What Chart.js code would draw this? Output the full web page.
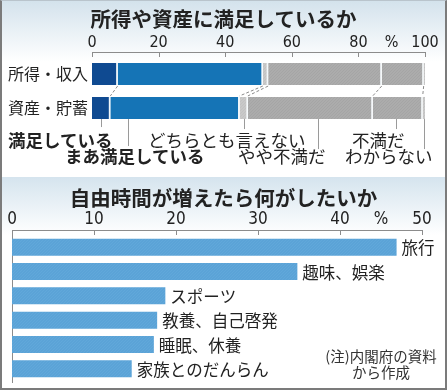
<!DOCTYPE html>
<html>
<head>
<meta charset="utf-8">
<script src="https://cdn.jsdelivr.net/npm/chart.js@4/dist/chart.umd.min.js"></script>
<style>
  html, body { margin: 0; padding: 0; background: #fff; }
  #wrap { position: relative; width: 447px; height: 390px; overflow: hidden; background: #fff;
          font-family: 'Noto Sans CJK JP', 'Noto Sans', sans-serif; color: #222; }
  .panel { position: absolute; left: 0; width: 447px; }
  #p1 { top: 0; height: 172px; background: linear-gradient(to bottom, #d3e2ec 0px, #ffffff 62px); }
  #p2 { top: 177px; height: 213px; background: linear-gradient(to bottom, #d5e4ee 0px, #ffffff 58px); }
  canvas { position: absolute; left: 0; }
  #c1 { top: 0; }
  #c2 { top: 178px; }
  .t { position: absolute; white-space: nowrap; }
  .title { font-weight: bold; font-size: 20.5px; line-height: 22px; width: 447px; text-align: center; left: 0; }
  .lg { font-size: 17.5px; line-height: 18px; }
  .b { font-weight: bold; }
  #note { font-size: 14.5px; line-height: 16px; text-align: center; left: 320px; width: 122px; top: 348px; color: #333; }
  #frame { position: absolute; left: 0; top: 0; width: 447px; height: 390px; box-sizing: border-box;
           border-left: 2px solid #7b7b7b; border-right: 2px solid #7b7b7b; border-bottom: 2px solid #7b7b7b;
           border-top: 1px solid #b9c4cc; pointer-events: none; }
</style>
</head>
<body>
<div id="wrap">
  <div class="panel" id="p1"></div>
  <div class="panel" id="p2"></div>
  <canvas id="c1" width="447" height="172"></canvas>
  <canvas id="c2" width="447" height="210"></canvas>

  <div class="t title" style="top:7px;">所得や資産に満足しているか</div>
  <div class="t title" style="top:186px;">自由時間が増えたら何がしたいか</div>

  <div class="t lg b" style="left:8px; top:131px;">満足している</div>
  <div class="t lg b" style="left:65px; top:147px;">まあ満足している</div>
  <div class="t lg" style="left:148px; top:131px;">どちらとも言えない</div>
  <div class="t lg" style="left:238px; top:147px;">やや不満だ</div>
  <div class="t lg" style="left:352px; top:131px;">不満だ</div>
  <div class="t lg" style="left:345px; top:147px;">わからない</div>

  <div class="t" id="note">(注)内閣府の資料<br>から作成</div>
  <div id="frame"></div>
</div>
<script>
// ---------------- data ----------------
const satCategories = ['所得・収入', '資産・貯蓄'];
const satSeries = ['満足している', 'まあ満足している', 'どちらとも言えない', 'やや不満だ', '不満だ', 'わからない'];
const satisfied          = [7.7, 5.5];
const fairlySatisfied    = [43.6, 38.8];
const neutral            = [1.6, 2.5];
const fairlyDissatisfied = [34.1, 37.5];
const dissatisfied       = [12.6, 15.0];
const unknown            = [0.4, 0.7];
const satTicks = [0, 20, 40, 60, 80, 100];

const freeCategories = ['旅行', '趣味、娯楽', 'スポーツ', '教養、自己啓発', '睡眠、休養', '家族とのだんらん'];
const freeValues = [46.9, 34.8, 18.7, 17.7, 17.3, 14.6];
const freeTicks = [0, 10, 20, 30, 40, 50];

// leader-line anchors under the first chart (in % units) and their lengths
const leaderAnchors = [
  { v: 2.8, len: 8 }, { v: 10.9, len: 27 }, { v: 45.7, len: 10 },
  { v: 67.9, len: 30 }, { v: 91.3, len: 10 }, { v: 99.7, len: 30 }
];

// ---------------- styles ----------------
function hatch(base, line) {
  const c = document.createElement('canvas');
  c.width = 3; c.height = 3;
  const g = c.getContext('2d');
  g.fillStyle = base; g.fillRect(0, 0, 3, 3);
  g.fillStyle = line;
  g.fillRect(0, 2, 1, 1); g.fillRect(1, 1, 1, 1); g.fillRect(2, 0, 1, 1);
  return g.createPattern(c, 'repeat');
}
const grayMain = hatch('#acacac', '#a5a5a5');
const grayLight = hatch('#c9c9c9', '#c2c2c2');
const satColors = ['#0f4a91', '#1574b6', grayLight, grayMain, grayMain, grayLight];
const satBorders = [1.5, 1.5, 1.5, 1.5, 1.5, 0];
const freeColor = hatch('#5ba3d7', '#61a8da');

const tickFont16 = { family: "'Liberation Sans Narrow', 'DejaVu Sans Condensed', 'Liberation Sans', sans-serif", size: 16 };
const tickFont17 = { family: "'Liberation Sans Narrow', 'DejaVu Sans Condensed', 'Liberation Sans', sans-serif", size: 17 };
const TICK_LEN = 5, TICK_PAD = 5;

// axis line + inward ticks + "%" label
function axisPlugin(ticks, opts) {
  return {
    id: 'axisDeco',
    beforeDatasetsDraw(chart) {
      const { ctx, chartArea: a, scales } = chart;
      const x = scales.x;
      const ay = a.top - TICK_LEN;
      ctx.save();
      if (opts.fillPlot) {
        ctx.fillStyle = '#ffffff';
        ctx.fillRect(a.left, ay, a.right - a.left, a.bottom - ay + 2);
      }
      ctx.strokeStyle = '#8c8c8c';
      ctx.lineWidth = 1;
      ctx.beginPath();
      ctx.moveTo(a.left, ay + 0.5); ctx.lineTo(a.right + 0.5, ay + 0.5);
      ticks.forEach(v => {
        const px = Math.round(x.getPixelForValue(v)) + 0.5;
        ctx.moveTo(px, ay); ctx.lineTo(px, a.top);
      });
      if (opts.leftBorder) {
        ctx.moveTo(a.left + 0.5, ay); ctx.lineTo(a.left + 0.5, a.bottom + 2);
      }
      ctx.stroke();
      // percent sign
      const f = opts.font;
      ctx.font = f.size + 'px ' + f.family;
      ctx.fillStyle = '#222';
      ctx.textAlign = 'center';
      ctx.textBaseline = 'middle';
      const step = ticks[1] - ticks[0];
      const last = ticks[ticks.length - 1];
      ctx.fillText('%', x.getPixelForValue(last - step / 2), a.top - TICK_PAD - f.size * 0.6);
      ctx.restore();
    }
  };
}

// dashed connectors between the two stacked bars + leader lines
const connectorPlugin = {
  id: 'connectors',
  afterDatasetsDraw(chart) {
    const { ctx, scales } = chart;
    const n = chart.data.datasets.length;
    ctx.save();
    ctx.strokeStyle = '#8a8a8a';
    ctx.lineWidth = 1;
    ctx.setLineDash([3, 2]);
    for (let i = 0; i < n - 1; i++) {
      const b0 = chart.getDatasetMeta(i).data[0];
      const b1 = chart.getDatasetMeta(i).data[1];
      const y0 = b0.y + b0.height / 2;
      const y1 = b1.y - b1.height / 2;
      ctx.beginPath();
      ctx.moveTo(b0.x, y0 + 1);
      ctx.lineTo(b1.x, y1 - 1);
      ctx.stroke();
    }
    ctx.setLineDash([]);
    ctx.strokeStyle = '#9a9a9a';
    const ref = chart.getDatasetMeta(0).data[1];
    const yb = ref.y + ref.height / 2;
    ctx.beginPath();
    leaderAnchors.forEach(l => {
      const px = Math.round(scales.x.getPixelForValue(l.v)) + 0.5;
      ctx.moveTo(px, yb); ctx.lineTo(px, yb + l.len);
    });
    ctx.stroke();
    ctx.restore();
  }
};

// category labels at the end of each bar
const endLabelPlugin = {
  id: 'endLabels',
  afterDatasetsDraw(chart) {
    const { ctx } = chart;
    const meta = chart.getDatasetMeta(0);
    ctx.save();
    ctx.font = "16.5px 'Noto Sans CJK JP', sans-serif";
    ctx.fillStyle = '#222';
    ctx.textAlign = 'left';
    ctx.textBaseline = 'middle';
    meta.data.forEach((bar, i) => {
      ctx.fillText(chart.data.labels[i], bar.x + 5, bar.y + 1);
    });
    ctx.restore();
  }
};

Chart.defaults.devicePixelRatio = 1;

// ---------------- chart 1 ----------------
const satValues = [satisfied, fairlySatisfied, neutral, fairlyDissatisfied, dissatisfied, unknown];
new Chart(document.getElementById('c1'), {
  type: 'bar',
  data: {
    labels: satCategories,
    datasets: satSeries.map((name, i) => ({
      label: name,
      data: satValues[i],
      backgroundColor: satColors[i],
      borderColor: '#f3f8fb',
      borderWidth: { top: 0, bottom: 0, left: 0, right: satBorders[i] },
      borderSkipped: false,
      barPercentage: 0.65,
      categoryPercentage: 1
    }))
  },
  options: {
    indexAxis: 'y',
    responsive: false,
    animation: false,
    events: [],
    layout: { padding: { left: 0, right: 22, top: 0, bottom: 47 } },
    plugins: { legend: { display: false }, tooltip: { enabled: false } },
    scales: {
      x: {
        position: 'top', stacked: true, min: 0, max: 100,
        afterFit: s => { s.height = 57; },
        afterBuildTicks: s => { s.ticks = satTicks.map(v => ({ value: v })); },
        ticks: { font: tickFont16, color: '#222', padding: TICK_PAD, maxRotation: 0, autoSkip: false },
        grid: { display: false, drawTicks: false },
        border: { display: false }
      },
      y: {
        stacked: true,
        afterFit: s => { s.width = 92; },
        ticks: { font: { family: "'Noto Sans CJK JP', sans-serif", size: 16 }, color: '#222', padding: 4 },
        grid: { display: false, drawTicks: false },
        border: { display: false }
      }
    }
  },
  plugins: [axisPlugin(satTicks, { font: tickFont16 }), connectorPlugin]
});

// ---------------- chart 2 ----------------
new Chart(document.getElementById('c2'), {
  type: 'bar',
  data: {
    labels: freeCategories,
    datasets: [{
      label: '自由時間が増えたら何がしたいか',
      data: freeValues,
      backgroundColor: freeColor,
      borderWidth: 0,
      barPercentage: 0.7,
      categoryPercentage: 1
    }]
  },
  options: {
    indexAxis: 'y',
    responsive: false,
    animation: false,
    events: [],
    layout: { padding: { left: 12, right: 25, top: 0, bottom: 7 } },
    plugins: { legend: { display: false }, tooltip: { enabled: false } },
    scales: {
      x: {
        position: 'top', min: 0, max: 50,
        afterFit: s => { s.height = 57; },
        afterBuildTicks: s => { s.ticks = freeTicks.map(v => ({ value: v })); },
        ticks: { font: tickFont17, color: '#222', padding: TICK_PAD, maxRotation: 0, autoSkip: false },
        grid: { display: false, drawTicks: false },
        border: { display: false }
      },
      y: { display: false }
    }
  },
  plugins: [axisPlugin(freeTicks, { font: tickFont17, fillPlot: true, leftBorder: true }), endLabelPlugin]
});
</script>
</body>
</html>
